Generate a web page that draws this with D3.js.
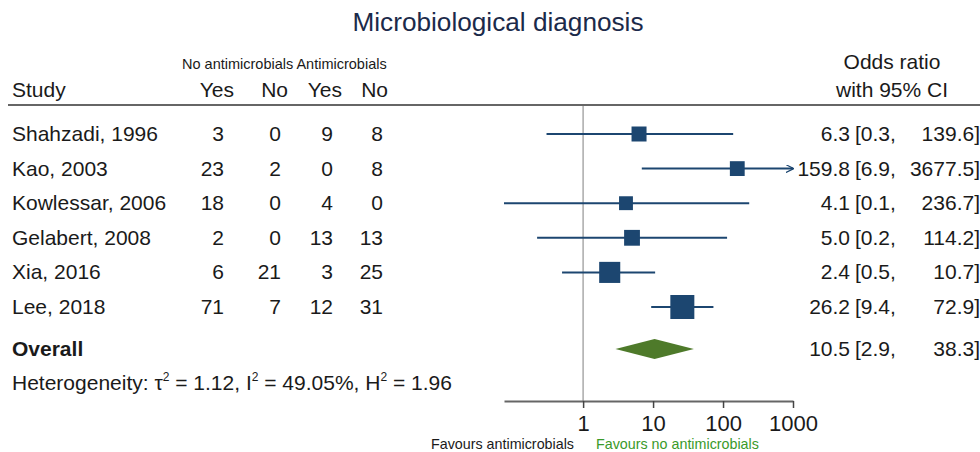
<!DOCTYPE html>
<html>
<head>
<meta charset="utf-8">
<script src="https://cdn.jsdelivr.net/npm/d3@7"></script>
<style>
  body { margin: 0; background: #fff; }
  text { font-family: "Liberation Sans", Arial, sans-serif; fill: #1a1a1a; }
</style>
</head>
<body>
<div id="forest"></div>
<script>
// Study data
const studies = ["Shahzadi, 1996", "Kao, 2003", "Kowlessar, 2006", "Gelabert, 2008", "Xia, 2016", "Lee, 2018"];
const noAbxYes = [3, 23, 18, 2, 6, 71];
const noAbxNo = [0, 2, 0, 0, 21, 7];
const abxYes = [9, 0, 4, 13, 3, 12];
const abxNo = [8, 8, 0, 13, 25, 31];
const oddsRatio = [6.3, 159.8, 4.1, 5.0, 2.4, 26.2];
const ciLow = [0.3, 6.9, 0.074, 0.22, 0.5, 9.4];
const ciHigh = [139.6, 3677.5, 236.7, 114.2, 10.7, 72.9];
const weights = [11.8, 11.5, 10.1, 13.1, 23.3, 30.2];
const overall = { or: 10.5, lo: 2.9, hi: 38.3 };
const axisTicks = [1, 10, 100, 1000];

const width = 980, height = 452;
const fs = "21px";
const svg = d3.select("#forest").append("svg")
    .attr("width", width)
    .attr("height", height);

// Scales
const x = d3.scaleLog()
    .domain([d3.min(ciLow), 1000])
    .range([504, 793]);

const y = d3.scaleLinear()
    .domain([0, 5])
    .range([134, 307]);

const boxSize = d3.scaleSqrt()
    .domain([0, d3.max(weights)])
    .range([0, 24]);

const navy = "#1c4670";
const green = "#4e7a2a";

// arrow marker for clipped CI
svg.append("defs").append("marker")
    .attr("id", "arrow")
    .attr("viewBox", "0 0 10 10")
    .attr("refX", 9).attr("refY", 5)
    .attr("markerWidth", 4).attr("markerHeight", 4)
    .attr("orient", "auto")
    .append("path")
    .attr("d", "M0,0 L10,5 L0,10")
    .attr("fill", "none")
    .attr("stroke", navy)
    .attr("stroke-width", 1.5);

// Title
svg.append("text")
    .attr("x", 498).attr("y", 31)
    .attr("text-anchor", "middle")
    .style("font-size", "25px")
    .style("fill", "#1b2a4a")
    .attr("textLength", 291)
    .attr("lengthAdjust", "spacingAndGlyphs")
    .text("Microbiological diagnosis");

// Headers
svg.append("text").attr("x", 182).attr("y", 69)
    .style("font-size", "14.5px")
    .text("No antimicrobials Antimicrobials");
svg.append("text").attr("x", 12).attr("y", 97)
    .style("font-size", fs).text("Study");
const headCols = [["Yes", 234], ["No", 288], ["Yes", 342], ["No", 388]];
headCols.forEach(h => {
    svg.append("text").attr("x", h[1]).attr("y", 97)
        .attr("text-anchor", "end").style("font-size", fs).text(h[0]);
});
svg.append("text").attr("x", 892).attr("y", 69)
    .attr("text-anchor", "middle").style("font-size", fs).text("Odds ratio");
svg.append("text").attr("x", 892).attr("y", 97)
    .attr("text-anchor", "middle").style("font-size", fs).text("with 95% CI");

svg.append("line")
    .attr("x1", 8).attr("x2", 980)
    .attr("y1", 105).attr("y2", 105)
    .attr("stroke", "#666").attr("stroke-width", 2);

// null line
svg.append("line")
    .attr("x1", x(1)).attr("x2", x(1))
    .attr("y1", 106).attr("y2", 401)
    .attr("stroke", "#aaa").attr("stroke-width", 1.5);

// Study rows
const rows = svg.selectAll(".row")
    .data(studies)
    .enter()
    .append("g")
    .attr("class", "row")
    .attr("transform", (d, i) => `translate(0,${y(i)})`);

rows.append("text").attr("x", 12).attr("y", 7)
    .style("font-size", fs).text(d => d);

const countCols = [[noAbxYes, 224], [noAbxNo, 281], [abxYes, 333], [abxNo, 383]];
countCols.forEach(c => {
    rows.append("text").attr("x", c[1]).attr("y", 7)
        .attr("text-anchor", "end").style("font-size", fs)
        .text((d, i) => c[0][i]);
});

rows.append("line")
    .attr("x1", (d, i) => x(ciLow[i]))
    .attr("x2", (d, i) => x(Math.min(ciHigh[i], x.domain()[1])))
    .attr("y1", 0).attr("y2", 0)
    .attr("stroke", navy).attr("stroke-width", 2)
    .attr("marker-end", (d, i) => ciHigh[i] > x.domain()[1] ? "url(#arrow)" : null);

rows.append("rect")
    .attr("x", (d, i) => x(oddsRatio[i]) - boxSize(weights[i]) / 2)
    .attr("y", (d, i) => -boxSize(weights[i]) / 2)
    .attr("width", (d, i) => boxSize(weights[i]))
    .attr("height", (d, i) => boxSize(weights[i]))
    .attr("fill", navy);

const fmt = d3.format(".1f");
rows.append("text").attr("x", 850).attr("y", 7)
    .attr("text-anchor", "end").style("font-size", fs)
    .text((d, i) => fmt(oddsRatio[i]));
rows.append("text").attr("x", 855).attr("y", 7)
    .style("font-size", fs)
    .text((d, i) => `[${fmt(ciLow[i])},`);
rows.append("text").attr("x", 980).attr("y", 7)
    .attr("text-anchor", "end").style("font-size", fs)
    .text((d, i) => `${fmt(ciHigh[i])}]`);

// Overall
const yo = 349;
svg.append("text").attr("x", 12).attr("y", yo + 7)
    .style("font-size", fs).style("font-weight", "bold").text("Overall");
svg.append("path")
    .attr("d", `M${x(overall.lo)},${yo} L${x(overall.or)},${yo - 10} L${x(overall.hi)},${yo} L${x(overall.or)},${yo + 10} Z`)
    .attr("fill", green);
svg.append("text").attr("x", 850).attr("y", yo + 7)
    .attr("text-anchor", "end").style("font-size", fs).text(fmt(overall.or));
svg.append("text").attr("x", 855).attr("y", yo + 7)
    .style("font-size", fs).text(`[${fmt(overall.lo)},`);
svg.append("text").attr("x", 980).attr("y", yo + 7)
    .attr("text-anchor", "end").style("font-size", fs).text(`${fmt(overall.hi)}]`);

// Heterogeneity
const het = svg.append("text").attr("x", 12).attr("y", 390).style("font-size", fs);
het.append("tspan").text("Heterogeneity: \u03c4");
het.append("tspan").attr("dy", -9).style("font-size", "12px").text("2");
het.append("tspan").attr("dy", 9).text(" = 1.12, I");
het.append("tspan").attr("dy", -9).style("font-size", "12px").text("2");
het.append("tspan").attr("dy", 9).text(" = 49.05%, H");
het.append("tspan").attr("dy", -9).style("font-size", "12px").text("2");
het.append("tspan").attr("dy", 9).text(" = 1.96");

// Axis
const axis = svg.append("g")
    .attr("transform", "translate(0,401)")
    .call(d3.axisBottom(x).tickValues(axisTicks).tickFormat(d3.format("d"))
        .tickSize(7).tickSizeOuter(0).tickPadding(7));
axis.select(".domain").attr("stroke", "#666").attr("stroke-width", 2);
axis.selectAll(".tick line").attr("stroke", "#444").attr("stroke-width", 1.5);
axis.selectAll(".tick text")
    .style("font-size", "22px")
    .style("font-family", "'Liberation Sans', Arial, sans-serif")
    .attr("fill", "#1a1a1a");

svg.append("text").attr("x", 574).attr("y", 449)
    .attr("text-anchor", "end").style("font-size", "14.3px").text("Favours antimicrobials");
svg.append("text").attr("x", 596).attr("y", 449)
    .style("font-size", "14.3px").style("fill", "#3a9a2a").text("Favours no antimicrobials");
</script>
</body>
</html>
